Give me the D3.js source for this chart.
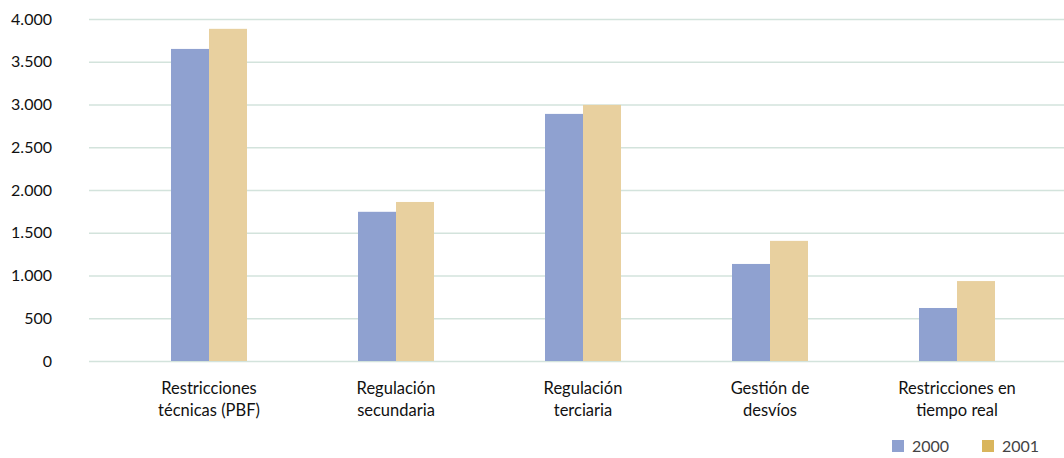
<!DOCTYPE html>
<html>
<head>
<meta charset="utf-8">
<script src="https://cdn.jsdelivr.net/npm/d3@7"></script>
<style>
  body { margin: 0; background: #fff; }
  svg { display: block; font-family: "Lato", "Open Sans", sans-serif; }
</style>
</head>
<body>
<svg class="chart"></svg>
<script>
const categories = [
    ["Restricciones", "técnicas (PBF)"],
    ["Regulación", "secundaria"],
    ["Regulación", "terciaria"],
    ["Gestión de", "desvíos"],
    ["Restricciones en", "tiempo real"]
];
const years = ["2000", "2001"];
const values2000 = [3650, 1745, 2890, 1135, 620];
const values2001 = [3885, 1860, 2995, 1405, 935];
const yTicks = [0, 500, 1000, 1500, 2000, 2500, 3000, 3500, 4000];

const width = 1064, height = 458;
const colors = { "2000": "#8fa1d0", "2001": "#e8d09f" };
const legendColors = { "2000": "#8fa1d0", "2001": "#d9b55c" };

const svg = d3.select(".chart")
    .attr("width", width)
    .attr("height", height);

const y = d3.scaleLinear()
    .domain([0, 4000])
    .range([361, 19]);

const x = d3.scaleBand()
    .domain(d3.range(categories.length))
    .range([115.5, 1050.5])
    .paddingInner(0)
    .paddingOuter(0);

const inner = d3.scaleBand()
    .domain(years)
    .range([x.bandwidth() / 2 - 38, x.bandwidth() / 2 + 38]);

// grid lines
svg.append("g")
    .selectAll("line")
    .data(yTicks)
    .join("line")
    .attr("x1", 89)
    .attr("x2", width)
    .attr("y1", d => y(d) + 0.5)
    .attr("y2", d => y(d) + 0.5)
    .attr("stroke", "#d3e3dc")
    .attr("stroke-width", 1.5);

// y labels
const fmt = d3.formatLocale({ decimal: ",", thousands: ".", grouping: [3], currency: ["", ""] }).format(",");
svg.append("g")
    .selectAll("text")
    .data(yTicks)
    .join("text")
    .attr("x", 52)
    .attr("y", d => y(d))
    .attr("dy", "0.35em")
    .attr("text-anchor", "end")
    .attr("font-size", 16)
    .attr("fill", "#111")
    .text(d => fmt(d));

const data = categories.map((c, i) => ({ i, vals: [values2000[i], values2001[i]] }));

const group = svg.append("g")
    .selectAll("g")
    .data(data)
    .join("g")
    .attr("transform", d => `translate(${x(d.i)},0)`);

group.selectAll("rect")
    .data(d => d.vals.map((v, k) => ({ year: years[k], v })))
    .join("rect")
    .attr("x", d => inner(d.year))
    .attr("width", inner.bandwidth())
    .attr("y", d => y(d.v))
    .attr("height", d => y(0) - y(d.v))
    .attr("fill", d => colors[d.year]);

// category labels
group.append("text")
    .attr("x", x.bandwidth() / 2)
    .attr("y", 394)
    .attr("text-anchor", "middle")
    .attr("font-size", 16.5)
    .attr("fill", "#111")
    .selectAll("tspan")
    .data(d => categories[d.i])
    .join("tspan")
    .attr("x", x.bandwidth() / 2)
    .attr("dy", (d, k) => k === 0 ? 0 : 22)
    .text(d => d);

// legend
const legend = svg.append("g")
    .selectAll("g")
    .data(years)
    .join("g")
    .attr("transform", (d, k) => `translate(${892 + k * 90},440)`);

legend.append("rect")
    .attr("width", 12)
    .attr("height", 12)
    .attr("fill", d => legendColors[d]);

legend.append("text")
    .attr("x", 20)
    .attr("y", 6)
    .attr("dy", "0.35em")
    .attr("font-size", 16)
    .attr("fill", "#444")
    .text(d => d);
</script>
</body>
</html>
